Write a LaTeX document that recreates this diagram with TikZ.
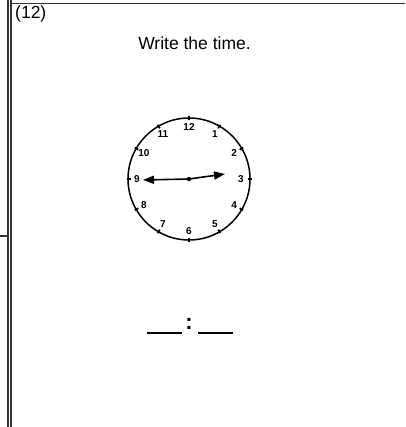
\documentclass[tikz,border=0pt]{standalone}
\usepackage{fontspec}
\setmainfont{Liberation Sans}
\usetikzlibrary{arrows.meta,calc}
\begin{document}
\begin{tikzpicture}[x=1pt,y=-1pt,
  frame/.style={draw=black!80,line width=1.4pt},
  lbl/.style={inner sep=0pt,font=\fontsize{17.5}{20}\selectfont},
  num/.style={inner sep=0pt,font=\fontsize{10}{12}\selectfont\bfseries},
  tick/.style={line width=1.8pt},
  hand/.style={line width=1.6pt,-{Triangle[length=11pt,width=8pt]}},
  blank/.style={line width=1.2pt}]
\useasboundingbox (0,0) rectangle (405,427);
% frame lines
\coordinate (v1t) at (8,0); \coordinate (v1b) at (8,427);
\coordinate (v2t) at (11,0); \coordinate (v2b) at (11,427);
\coordinate (ht1) at (11,3.5); \coordinate (ht2) at (405,3.5);
\coordinate (hs1) at (0,236); \coordinate (hs2) at (8,236);
\draw[frame] (v1t) -- (v1b);
\draw[frame] (v2t) -- (v2b);
\draw[frame,line width=1.8pt] (ht1) -- (ht2);
\draw[frame,line width=1.2pt] (hs1) -- (hs2);
% texts
\node[lbl,anchor=north west] (qnum) at (15,6) {(12)};
\node[lbl,anchor=base] (title) at (194.5,49.3) {Write the time.};
% clock
\coordinate (c) at (189,179);
\node[draw,circle,line width=1.5pt,minimum size=122pt,inner sep=0pt] (face) at (c) {};
\foreach \h in {1,...,12}{
  \pgfmathsetmacro{\a}{30*\h-90}
  \draw[tick] ($(c)+(\a:58.5)$) coordinate (ti\h) -- ($(c)+(\a:62.5)$) coordinate (to\h);
  \node[num] (n\h) at ($(c)+(\a:52)$) {\h};
}
% hands
\coordinate (mtip) at (143,180);
\coordinate (htip) at (225,174);
\draw[hand] (c) -- (mtip);
\draw[hand] (c) -- (htip);
\fill (c) circle (2.2pt);
% answer blanks
\coordinate (b1a) at (147,333); \coordinate (b1b) at (182,333);
\coordinate (b2a) at (198,333); \coordinate (b2b) at (233,333);
\draw[blank] (b1a) -- (b1b);
\draw[blank] (b2a) -- (b2b);
\node[inner sep=0pt,font=\fontsize{22}{24}\selectfont\bfseries] (colon) at (189,324) {:};
\end{tikzpicture}
\end{document}
